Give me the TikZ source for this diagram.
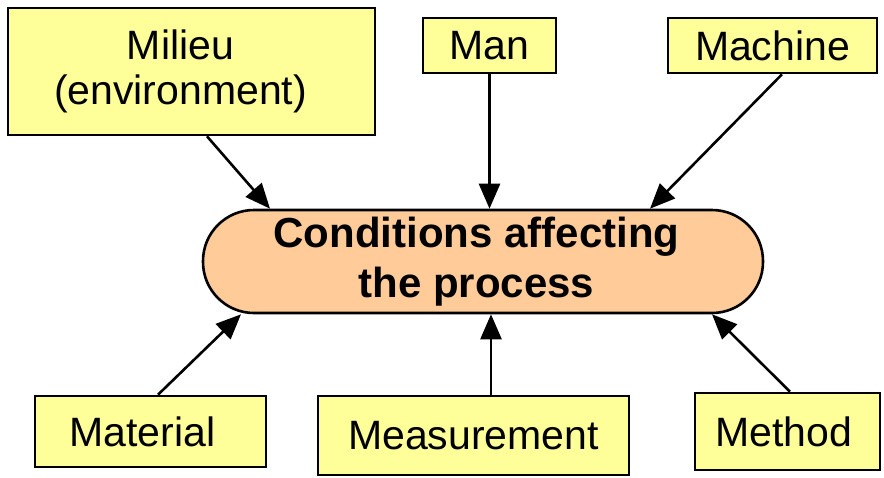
\documentclass[tikz,border=0pt]{standalone}
\usepackage{fontspec}
\setmainfont{Liberation Sans}
\usepackage{xcolor}
\usepackage{tikz}
\usetikzlibrary{arrows.meta,calc}
\definecolor{cFac}{HTML}{FFFF99}
\definecolor{cCon}{HTML}{FFCC99}
\tikzset{
  >={Triangle[length=25pt,width=21pt]},
  fac/.style={draw,fill=cFac,line width=2.6pt,align=center,inner sep=0pt,
              font=\fontsize{41}{45}\selectfont},
  cond/.style={draw,fill=cCon,line width=2.6pt,align=center,inner sep=0pt,
               rounded corners=51pt,font=\fontsize{42}{50}\selectfont\bfseries},
  flow/.style={->,line width=2.6pt},
}
\begin{document}
\begin{tikzpicture}[x=1pt,y=-1pt]
  \useasboundingbox (0,0) rectangle (884,477);
  % --- central node ---
  \node[cond,minimum width=560pt,minimum height=103pt] (proc) at (483,261.5) {Conditions affecting\hspace*{13pt}\\the process\hspace*{13pt}};
  % --- top factors ---
  \node[fac,minimum width=367pt,minimum height=127pt] (milieu) at (191.5,71.5) {Milieu\hspace*{22pt}\\(environment)\hspace*{22pt}};
  \node[fac,minimum width=133pt,minimum height=55pt] (man) at (489.5,45.5) {Man};
  \node[fac,minimum width=209pt,minimum height=55pt] (machine) at (772.5,45.5) {Machine};
  % --- bottom factors ---
  \node[fac,minimum width=231pt,minimum height=71pt] (material) at (150.5,431.5) {Material\hspace*{16pt}};
  \node[fac,minimum width=311pt,minimum height=79pt] (measure) at (473.5,435.5) {Measurement};
  \node[fac,minimum width=185pt,minimum height=77pt] (method) at (787.5,431.5) {Method\hspace*{8pt}};
  % --- arrows ---
  \draw[flow] ([xshift=15.5pt]milieu.south) -- ([xshift=-213pt]proc.north);
  \draw[flow] (man.south) -- (man.south |- proc.north);
  \draw[flow] ([xshift=9.5pt]machine.south) -- ([xshift=167pt]proc.north);
  \draw[flow] ([xshift=7.5pt]material.north) -- ([xshift=-242pt]proc.south);
  \draw[flow] ([xshift=17.5pt]measure.north) -- ([xshift=8pt]proc.south);
  \draw[flow] ([xshift=2.5pt]method.north) -- ([xshift=229pt]proc.south);
\end{tikzpicture}
\end{document}
